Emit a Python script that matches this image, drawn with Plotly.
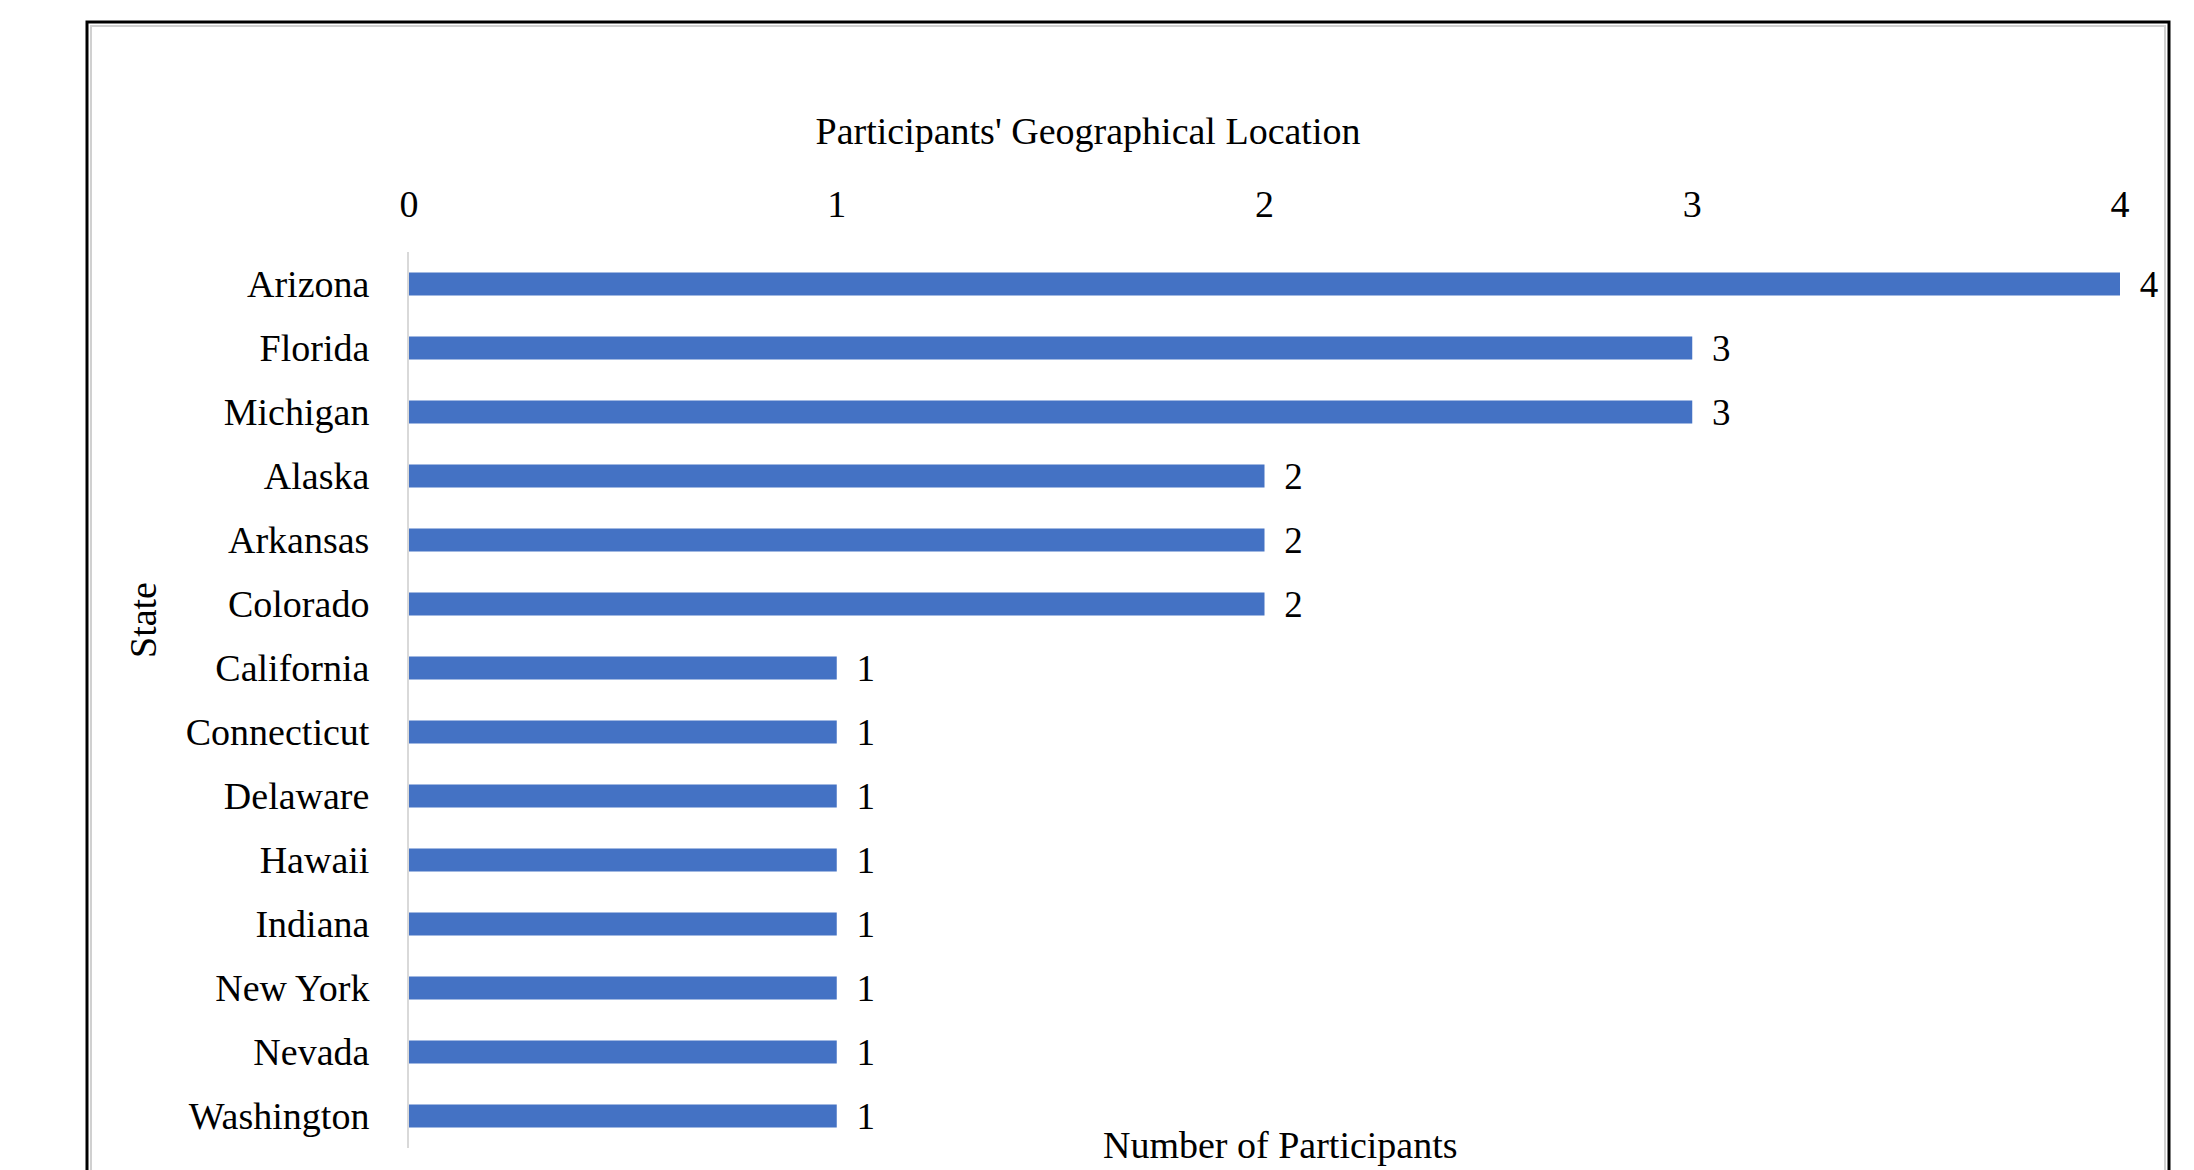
import plotly.graph_objects as go

states = ["Arizona", "Florida", "Michigan", "Alaska", "Arkansas", "Colorado",
          "California", "Connecticut", "Delaware", "Hawaii", "Indiana",
          "New York", "Nevada", "Washington"]
participants = [4, 3, 3, 2, 2, 2, 1, 1, 1, 1, 1, 1, 1, 1]
x_ticks = [0, 1, 2, 3, 4]

W, H = 2194, 1170
OFF = 8  # page body margin offset
L, R, T, B = 409 - OFF, 74 + OFF, 252 - OFF, 22 + OFF
pw, ph = W - L - R, H - T - B

def px_to_paper_x(px):
    return (px - OFF - L) / pw

def px_to_paper_y(py):
    return (H - B - (py - OFF)) / ph

FONT = "Liberation Serif, Times New Roman, serif"
FS = 38

fig = go.Figure(go.Bar(
    x=participants,
    y=states,
    orientation="h",
    marker=dict(color="#4472C4", line=dict(width=0)),
    text=["\u00a0\u2009" + str(v) for v in participants],
    textposition="outside",
    constraintext="none",
    cliponaxis=False,
    textfont=dict(family=FONT, size=37, color="#000000"),
    hoverinfo="skip",
))

fig.update_layout(
    width=W, height=H,
    margin=dict(l=L, r=R, t=T, b=B, autoexpand=False),
    paper_bgcolor="white",
    plot_bgcolor="white",
    bargap=0.64,
    showlegend=False,
    font=dict(family=FONT, size=FS, color="#000000"),
    title=dict(
        text="Participants' Geographical Location",
        x=(1088 - OFF) / W, xanchor="center",
        y=1 - (131 - OFF) / H, yanchor="middle",
        font=dict(family=FONT, size=FS, color="#000000"),
    ),
    xaxis=dict(
        side="top",
        range=[0, 4],
        tickvals=x_ticks,
        ticktext=[str(t) for t in x_ticks],
        showgrid=False,
        zeroline=False,
        showline=False,
        ticks="outside",
        ticklen=19,
        tickcolor="rgba(0,0,0,0)",
        tickfont=dict(family=FONT, size=FS, color="#000000"),
        fixedrange=True,
    ),
    yaxis=dict(
        categoryorder="array",
        categoryarray=states,
        autorange="reversed",
        showgrid=False,
        zeroline=False,
        showline=True,
        linecolor="#D9D9D9",
        linewidth=2,
        ticks="outside",
        ticklen=30,
        tickcolor="rgba(0,0,0,0)",
        tickfont=dict(family=FONT, size=FS, color="#000000"),
        fixedrange=True,
    ),
)

# Axis titles as annotations
fig.add_annotation(
    text="Number of Participants",
    xref="paper", yref="paper",
    x=px_to_paper_x(1280), y=px_to_paper_y(1145),
    xanchor="center", yanchor="middle",
    showarrow=False,
    font=dict(family=FONT, size=FS, color="#000000"),
)
fig.add_annotation(
    text="State",
    xref="paper", yref="paper",
    x=px_to_paper_x(143), y=px_to_paper_y(620),
    xanchor="center", yanchor="middle",
    textangle=-90,
    showarrow=False,
    font=dict(family=FONT, size=FS, color="#000000"),
)

# Frame around chart
fig.add_shape(
    type="rect", xref="paper", yref="paper",
    x0=px_to_paper_x(87), x1=px_to_paper_x(2169),
    y0=px_to_paper_y(1200), y1=px_to_paper_y(22),
    line=dict(color="#000000", width=3),
    fillcolor="rgba(0,0,0,0)",
    layer="below",
)
fig.add_shape(
    type="rect", xref="paper", yref="paper",
    x0=px_to_paper_x(91), x1=px_to_paper_x(2165),
    y0=px_to_paper_y(1200), y1=px_to_paper_y(26),
    line=dict(color="#D0D0D0", width=2),
    fillcolor="rgba(0,0,0,0)",
    layer="below",
)

fig.write_html("out.html")
